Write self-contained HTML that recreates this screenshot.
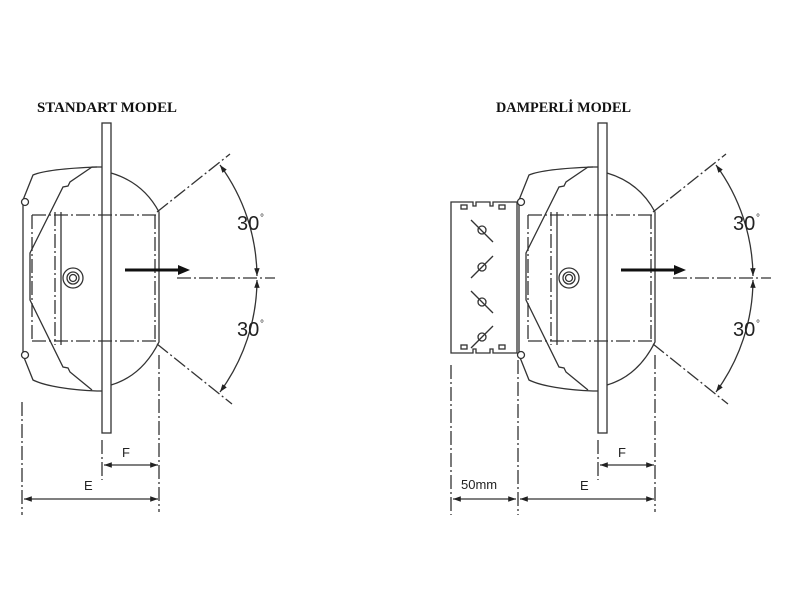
<!DOCTYPE html>
<html><head><style>body{margin:0;background:#fff}svg{display:block}</style></head><body>
<svg width="800" height="600" viewBox="0 0 800 600" xmlns="http://www.w3.org/2000/svg">
<defs>
<marker id="ah" viewBox="0 0 10 10" refX="10" refY="5" markerWidth="6" markerHeight="6" orient="auto-start-reverse"><path d="M0,1.5 L10,5 L0,8.5 Z" fill="#222"/></marker>
<g id="fan" fill="none" stroke="#333" stroke-width="1.3">
  <rect x="102" y="123" width="9" height="310" fill="#fff"/>
  <path d="M97,167 C70,168 45,170 33,175 L23,200 L23,355 L33,380 C45,386 70,390 97,391 L102,391"/>
  <path d="M102,167 L92,167 L70,182 L68,186 L63,187 L30,253 L30,300 L63,367 L68,368 L70,372 L92,390"/>
  <circle cx="25" cy="202" r="3.5" fill="#fff"/>
  <circle cx="25" cy="355" r="3.5" fill="#fff"/>
  <path d="M111,173 C135,180 150,195 159,212 L159,342 C150,360 135,378 111,385"/>
  <g stroke-dasharray="14,3,2,3">
    <line x1="32" y1="215" x2="157" y2="215"/>
    <line x1="32" y1="341" x2="157" y2="341"/>
    <line x1="32" y1="215" x2="32" y2="341"/>
    <line x1="55" y1="212" x2="55" y2="345"/>
    <line x1="155" y1="215" x2="155" y2="341"/>
    <line x1="159" y1="355" x2="159" y2="512"/>
    <line x1="157" y1="212" x2="230" y2="154"/>
    <line x1="157" y1="344" x2="232" y2="404"/>
    <line x1="177" y1="278" x2="275" y2="278"/>
    <line x1="102" y1="440" x2="102" y2="480"/>
  </g>
  <line x1="61" y1="212" x2="61" y2="345"/>
  <circle cx="73" cy="278" r="10"/>
  <circle cx="73" cy="278" r="6"/>
  <circle cx="73" cy="278" r="3.5"/>
  <path d="M220,165 A191,191 0 0 1 257,276" marker-start="url(#ah)" marker-end="url(#ah)"/>
  <path d="M257,280 A191,191 0 0 1 220,392" marker-start="url(#ah)" marker-end="url(#ah)"/>
  <line x1="104" y1="465" x2="158" y2="465" marker-start="url(#ah)" marker-end="url(#ah)"/>
</g>
</defs>
<use href="#fan"/>
<use href="#fan" transform="translate(496,0)"/>
<g stroke="#111" stroke-width="3"><line x1="125" y1="270" x2="180" y2="270"/><line x1="621" y1="270" x2="676" y2="270"/></g>
<path d="M178,265 L190,270 L178,275Z M674,265 L686,270 L674,275Z" fill="#111"/>
<g fill="none" stroke="#333" stroke-width="1.3">
  <line x1="22" y1="402" x2="22" y2="515" stroke-dasharray="14,3,2,3"/>
  <line x1="24" y1="499" x2="158" y2="499" marker-start="url(#ah)" marker-end="url(#ah)"/>
  <line x1="451" y1="365" x2="451" y2="515" stroke-dasharray="14,3,2,3"/>
  <line x1="518" y1="360" x2="518" y2="515" stroke-dasharray="14,3,2,3"/>
  <line x1="453" y1="499" x2="516" y2="499" marker-start="url(#ah)" marker-end="url(#ah)"/>
  <line x1="520" y1="499" x2="654" y2="499" marker-start="url(#ah)" marker-end="url(#ah)"/>
  <path d="M451,202 L473,202 L473,206 L476,206 L476,202 L490,202 L490,206 L493,206 L493,202 L517,202 L517,353 L493,353 L493,349 L490,349 L490,353 L476,353 L476,349 L473,349 L473,353 L451,353 Z" fill="#fff"/>
  <rect x="461" y="205" width="6" height="4"/><rect x="499" y="205" width="6" height="4"/>
  <rect x="461" y="345" width="6" height="4"/><rect x="499" y="345" width="6" height="4"/>
  <circle cx="482" cy="230" r="4"/><line x1="471" y1="220" x2="493" y2="242"/>
  <circle cx="482" cy="267" r="4"/><line x1="471" y1="278" x2="493" y2="256"/>
  <circle cx="482" cy="302" r="4"/><line x1="471" y1="291" x2="493" y2="313"/>
  <circle cx="482" cy="337" r="4"/><line x1="471" y1="348" x2="493" y2="326"/>
</g>
<g font-family="Liberation Sans, sans-serif" fill="#222">
  <text x="237" y="230" font-size="20">30</text><text x="260" y="221" font-size="10">°</text>
  <text x="237" y="336" font-size="20">30</text><text x="260" y="327" font-size="10">°</text>
  <text x="733" y="230" font-size="20">30</text><text x="756" y="221" font-size="10">°</text>
  <text x="733" y="336" font-size="20">30</text><text x="756" y="327" font-size="10">°</text>
  <text x="122" y="457" font-size="13">F</text>
  <text x="84" y="490" font-size="13">E</text>
  <text x="618" y="457" font-size="13">F</text>
  <text x="580" y="490" font-size="13">E</text>
  <text x="461" y="489" font-size="13">50mm</text>
</g>
<g font-family="Liberation Serif, serif" font-weight="bold" font-size="14.5" fill="#111">
  <text x="37" y="112" textLength="140" lengthAdjust="spacingAndGlyphs">STANDART MODEL</text>
  <text x="496" y="112" textLength="135" lengthAdjust="spacingAndGlyphs">DAMPERLİ MODEL</text>
</g>
</svg>
</body></html>
